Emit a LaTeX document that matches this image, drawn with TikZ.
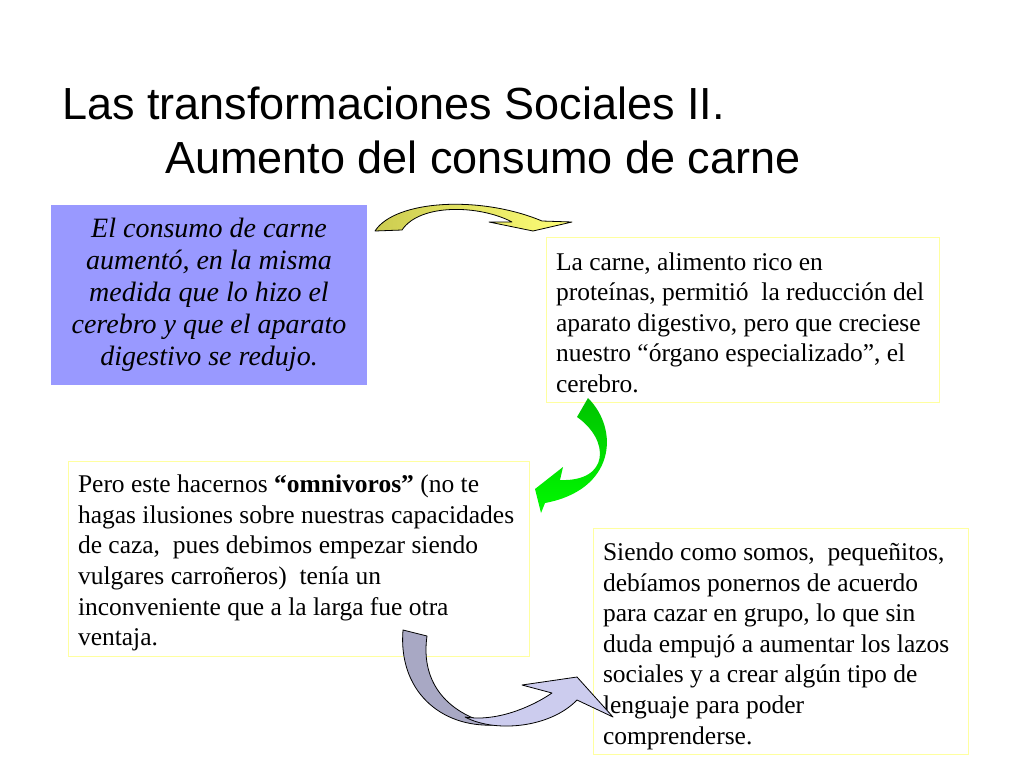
\documentclass[tikz,border=0pt]{standalone}
\usepackage{fontspec}
\setmainfont{Liberation Serif}
\newfontfamily\titlefont{Liberation Sans}
\usepackage{tikz}
\usetikzlibrary{positioning}
\definecolor{boxblue}{RGB}{153,153,255}
\definecolor{boxline}{RGB}{255,255,160}
\definecolor{yelldark}{RGB}{204,204,80}
\definecolor{yellight}{RGB}{255,255,120}
\definecolor{greendark}{RGB}{0,195,0}
\definecolor{greenlight}{RGB}{0,250,0}
\definecolor{lilacdark}{RGB}{168,168,196}
\definecolor{lilaclight}{RGB}{204,204,238}

\begin{document}
\begin{tikzpicture}[x=1pt, y=-1pt,
  textbox/.style={draw=boxline, line width=1pt, inner xsep=10pt, inner ysep=0pt,
    align=flush left, font=\fontsize{25.5}{30.6}\selectfont},
  titletext/.style={anchor=base west, inner sep=0pt, font=\titlefont\fontsize{45}{54}\selectfont},
  arrowline/.style={draw=black, line width=0.8pt, line join=round}]

\useasboundingbox[fill=white] (0,0) rectangle (1024,768);

% Titulo
\node[titletext] (titulo) at (62,119) {Las transformaciones Sociales II.};
\node[titletext] (subtitulo) at (165,173) {Aumento del consumo de carne};

% Cajas de texto
\node[fill=boxblue, minimum width=316pt, minimum height=180pt, text width=300pt,
  align=flush center, inner sep=0pt, font=\itshape\fontsize{28}{32}\selectfont] (consumo) at (209,295)
  {El consumo de carne\\ aumentó, en la misma\\ medida que lo hizo el\\ cerebro y que el aparato\\ digestivo se redujo.};

\node[textbox, text width=373pt, text height=24pt, minimum height=165pt] (proteinas) at (742.5,319.5)
  {La carne, alimento rico en\\ proteínas, permitió\ \ la reducción del\\ aparato digestivo, pero que creciese\\
   nuestro “órgano especializado”, el\\ cerebro.};

\node[textbox, text width=441pt, text height=27pt, minimum height=195pt] (omnivoros) at (298.5,558.5)
  {Pero este hacernos \textbf{“omnivoros”} (no te\\ hagas ilusiones sobre nuestras capacidades\\
   de caza,\ \ pues debimos empezar siendo\\ vulgares carroñeros)\ \ tenía un\\
   inconveniente que a la larga fue otra\\ ventaja.};

\node[textbox, text width=355pt, text height=28pt, minimum height=226pt] (lenguaje) at (780.5,641)
  {Siendo como somos,\ \ pequeñitos,\\ debíamos ponernos de acuerdo\\ para cazar en grupo, lo que sin\\
   duda empujó a aumentar los lazos\\ sociales y a crear algún tipo de\\ lenguaje para poder\\ comprenderse.};

% Flecha amarilla
\draw[arrowline, left color=yelldark, right color=yellight]
  (375,231) .. controls (395,200) and (480,195) .. (542,221) -- (572,222) -- (533,231)
  -- (489,222) -- (512,222) .. controls (480,205) and (420,203) .. (402,230) -- cycle;

% Flecha verde
\shade[top color=greendark, bottom color=greenlight]
  (588,398) .. controls (620,430) and (615,490) .. (545,503) -- (541,513) -- (535,489)
  -- (563,467) -- (560,480) .. controls (610,482) and (610,440) .. (577,417) -- cycle;

% Flecha lila
\draw[arrowline, fill=lilacdark]
  (403,630) -- (427,636) .. controls (420,685) and (450,715) .. (495,725)
  .. controls (440,728) and (398,690) .. (403,630) -- cycle;
\draw[arrowline, fill=lilaclight]
  (465,717) .. controls (495,733) and (550,728) .. (577,700) -- (613,717) -- (577,677)
  -- (522,685) -- (552,693) .. controls (530,708) and (495,722) .. (465,717) -- cycle;
\end{tikzpicture}
\end{document}
